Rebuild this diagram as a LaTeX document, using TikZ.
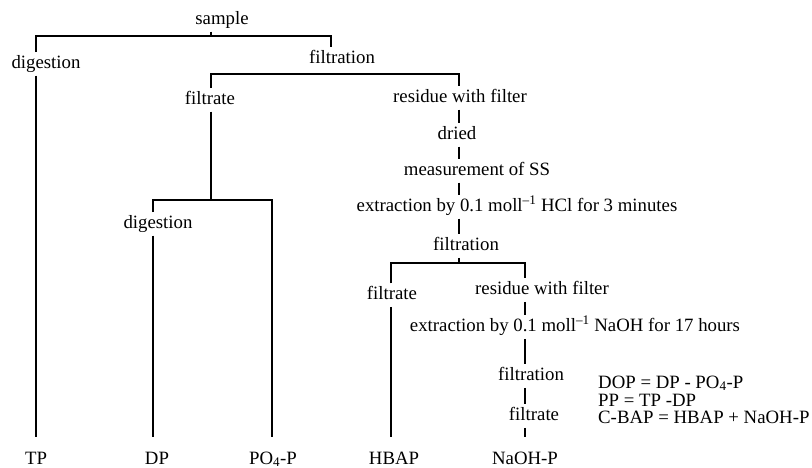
\documentclass[tikz,border=0pt]{standalone}
\usepackage{fontspec}
\setmainfont{Liberation Serif}
\newcommand{\lblfont}{\fontsize{18.8pt}{22pt}\selectfont}
\begin{document}
\begin{tikzpicture}[x=1pt,y=-1pt,
  lbl/.style={inner xsep=0pt, inner ysep=0pt, outer xsep=0pt, outer ysep=3pt,
    font=\lblfont, text height=13pt, text depth=4.5pt, anchor=center},
  leaf/.style={lbl, anchor=base, outer ysep=14pt, text depth=0pt},
  eqn/.style={inner sep=0pt, font=\lblfont, anchor=base west},
  conn/.style={line width=1.1pt, line cap=butt, line join=miter}]
\useasboundingbox (0,0) rectangle (812,468);

% labels
\node[lbl] (sample) at (222,20) {sample};
\node[lbl] (dig1) at (46,64) {digestion};
\node[lbl] (filt1) at (342,59) {filtration};
\node[lbl] (filtrate1) at (210,100) {filtrate};
\node[lbl] (res1) at (460,98) {residue with filter};
\node[lbl] (dried) at (457,135) {dried};
\node[lbl] (meas) at (477,171) {measurement of SS};
\node[lbl] (extr1) at (517,207) {extraction by 0.1 moll\textsuperscript{–1} HCl for 3 minutes};
\node[lbl] (filt2) at (466,246) {filtration};
\node[lbl] (dig2) at (158,224) {digestion};
\node[lbl] (filtrate2) at (392,295) {filtrate};
\node[lbl] (res2) at (542,290) {residue with filter};
\node[lbl] (extr2) at (575,327) {extraction by 0.1 moll\textsuperscript{–1} NaOH for 17 hours};
\node[lbl] (filt3) at (531,376) {filtration};
\node[lbl] (filtrate3) at (534,416) {filtrate};

\node[leaf] (TP) at (36,464) {TP};
\node[leaf] (DP) at (157,464) {DP};
\node[leaf] (PO4) at (273,464) {PO\textsubscript{4}-P};
\node[leaf] (HBAP) at (394,464) {HBAP};
\node[leaf] (NaOHP) at (525,464) {NaOH-P};

\node[eqn] (eq1) at (598,388) {DOP = DP - PO\textsubscript{4}-P};
\node[eqn] (eq2) at (598,406) {PP = TP -DP};
\node[eqn] (eq3) at (598,423) {C-BAP = HBAP + NaOH-P};

% bar coordinates
\coordinate (b1L) at (36,36);
\coordinate (b1M) at (211,36);
\coordinate (b1R) at (331,36);
\coordinate (b2L) at (211,74);
\coordinate (b2R) at (459,74);
\coordinate (b3L) at (153,200);
\coordinate (b3M) at (211,200);
\coordinate (b3R) at (272,200);
\coordinate (b4L) at (391,263);
\coordinate (b4M) at (459,263);
\coordinate (b4R) at (525,263);

% connectors
\draw[conn] (sample.south -| b1M) -- (b1M);
\draw[conn] (dig1.north -| b1L) -- (b1L) -- (b1R) -- (filt1.north -| b1R);
\draw[conn] (dig1.south -| b1L) -- (TP.north -| b1L);

\draw[conn] (filtrate1.north -| b2L) -- (b2L) -- (b2R) -- (res1.north -| b2R);
\draw[conn] (filtrate1.south -| b2L) -- (b3M);
\draw[conn] (dig2.north -| b3L) -- (b3L) -- (b3R) -- (PO4.north -| b3R);
\draw[conn] (dig2.south -| b3L) -- (DP.north -| b3L);

\draw[conn] (res1.south -| b2R) -- (dried.north -| b2R);
\draw[conn] (dried.south -| b2R) -- (meas.north -| b2R);
\draw[conn] (meas.south -| b2R) -- (extr1.north -| b2R);
\draw[conn] (extr1.south -| b2R) -- (filt2.north -| b2R);
\draw[conn] (filt2.south -| b4M) -- (b4M);

\draw[conn] (filtrate2.north -| b4L) -- (b4L) -- (b4R) -- (res2.north -| b4R);
\draw[conn] (filtrate2.south -| b4L) -- (HBAP.north -| b4L);

\draw[conn] (res2.south -| b4R) -- (extr2.north -| b4R);
\draw[conn] (extr2.south -| b4R) -- (filt3.north -| b4R);
\draw[conn] (filt3.south -| b4R) -- (filtrate3.north -| b4R);
\draw[conn] (filtrate3.south -| b4R) -- (NaOHP.north -| b4R);
\end{tikzpicture}
\end{document}
